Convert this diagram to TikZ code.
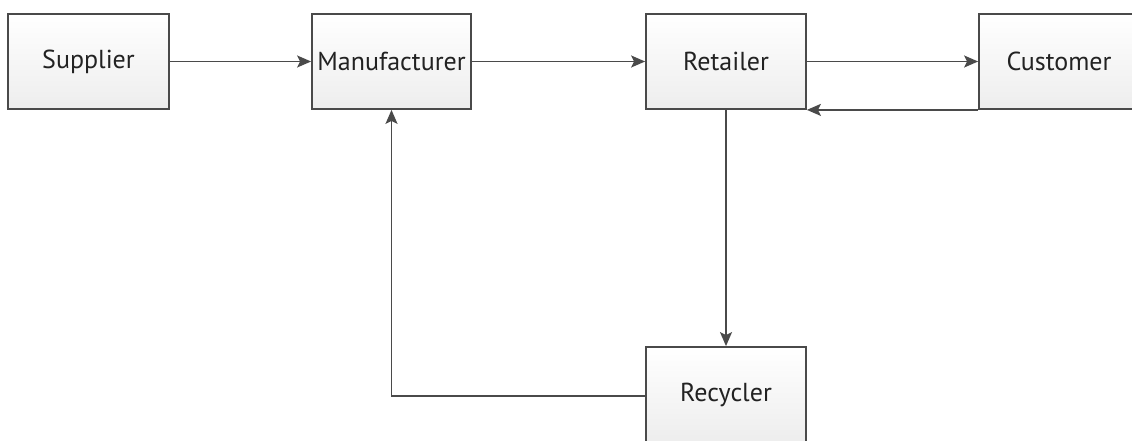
\documentclass[tikz,border=0pt]{standalone}
\usepackage{fontspec}
\setmainfont{PT Sans}
\usetikzlibrary{arrows.meta}
\definecolor{edge}{HTML}{4A4A4A}
\definecolor{txt}{HTML}{222222}
\begin{document}
\begin{tikzpicture}[x=1pt,y=-1pt,
  box/.style={draw=edge, line width=1.8pt, rectangle, top color=white, bottom color=gray!14,
    minimum height=95pt, inner sep=0pt, font=\fontsize{26}{30}\selectfont, text=txt},
  conn/.style={draw=edge, line width=1.8pt, -{Stealth[length=14pt,width=12pt,inset=3pt]}}]
\useasboundingbox (0,0) rectangle (1132,441);
\clip (0,0) rectangle (1132,441);
\node[box, minimum width=161pt] (sup) at (88.5,61.5) {Supplier};
\node[box, minimum width=159pt] (man) at (391.5,61.5) {Manufacturer};
\node[box, minimum width=160pt] (ret) at (726,61.5) {Retailer};
\node[box, minimum width=160pt] (cus) at (1059,61.5) {Customer};
\node[box, minimum width=160pt] (rec) at (726,394.5) {Recycler};
\draw[conn] (sup.east) -- (man.west);
\draw[conn] (man.east) -- (ret.west);
\draw[conn] (ret.east) -- (cus.west);
\draw[conn] (cus.south west) -- (ret.south east);
\draw[conn] (ret.south) -- (rec.north);
\coordinate (corner) at (man.south |- 0,396);
\draw[conn] (rec.west |- 0,396) -- (corner) -- (man.south);
\end{tikzpicture}
\end{document}
